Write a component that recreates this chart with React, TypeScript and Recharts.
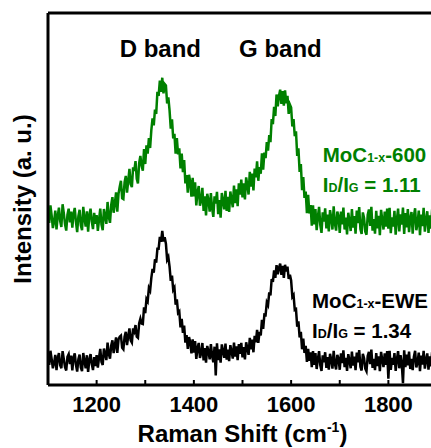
import React from 'react';
import { LineChart, Line, XAxis, YAxis, ReferenceLine, ReferenceDot, Label } from 'recharts';

const FONT = '"Liberation Sans", Arial, Helvetica, sans-serif';
const GREEN = '#008000';

// Raman shift sampling (cm-1)
const RAMAN_SHIFT_START = 1100;
const RAMAN_SHIFT_STEP = 2.5;

// MoC1-x-600 spectrum, offset upward (a. u.)
const INTENSITY_600 = [
  47.1, 43.6, 48.3, 45.6, 42.2, 43.9, 46.9, 41.8, 45.4, 47.7, 44.1, 42.5, 48.6, 46.2, 43.2, 41.5, 45.8, 47.4, 43.7, 46.6,
  42.3, 46.0, 47.6, 43.8, 41.1, 45.4, 47.1, 42.9, 41.6, 47.9, 44.8, 42.6, 46.7, 41.2, 45.6, 47.4, 44.0, 41.9, 46.3, 43.3,
  45.7, 41.4, 44.5, 47.4, 43.1, 41.6, 47.3, 45.4, 43.3, 49.2, 45.2, 43.6, 48.4, 50.5, 46.3, 48.8, 51.8, 46.6, 51.4, 53.3,
  54.9, 50.2, 50.0, 54.5, 56.2, 51.7, 54.9, 58.1, 54.0, 53.2, 58.5, 57.6, 60.2, 55.4, 54.2, 59.7, 61.6, 58.9, 57.6, 63.4,
  59.4, 64.4, 62.2, 66.4, 63.7, 68.5, 71.7, 69.8, 74.0, 72.9, 78.8, 77.7, 81.8, 78.8, 82.6, 78.4, 80.9, 80.5, 75.7, 77.3,
  73.8, 68.9, 71.4, 66.3, 67.5, 62.2, 66.4, 62.0, 63.6, 58.2, 62.2, 57.2, 60.5, 54.2, 56.4, 51.7, 56.5, 54.6, 50.6, 55.7,
  50.7, 54.5, 48.3, 51.9, 53.5, 48.2, 49.6, 53.0, 46.8, 50.7, 45.6, 51.4, 49.6, 46.6, 51.6, 47.5, 45.2, 50.7, 48.8, 51.9,
  45.9, 49.7, 45.0, 51.6, 49.5, 47.2, 52.2, 46.8, 50.6, 46.5, 52.0, 49.9, 47.8, 53.6, 48.9, 52.6, 48.1, 54.2, 51.2, 55.2,
  50.4, 54.2, 49.9, 55.8, 53.8, 51.2, 57.3, 53.3, 56.8, 52.3, 58.2, 55.8, 60.1, 54.9, 58.6, 56.8, 62.3, 57.9, 62.5, 61.0,
  65.3, 63.0, 67.2, 65.3, 71.5, 70.1, 74.8, 72.3, 78.1, 74.9, 77.7, 79.4, 75.6, 79.0, 75.1, 79.2, 75.7, 77.7, 72.9, 75.4,
  74.6, 69.5, 71.5, 66.9, 68.2, 61.6, 63.6, 57.3, 59.4, 52.4, 55.9, 50.3, 52.0, 46.2, 51.1, 46.1, 48.4, 42.8, 48.3, 43.2,
  47.3, 41.6, 45.2, 47.9, 43.0, 40.9, 46.4, 43.9, 47.5, 42.1, 45.8, 41.3, 47.0, 44.9, 41.8, 48.0, 43.4, 41.5, 46.6, 45.3,
  40.9, 46.6, 43.2, 47.7, 41.8, 45.0, 40.5, 46.3, 44.1, 41.4, 47.3, 42.3, 45.4, 40.7, 46.9, 43.5, 47.8, 41.9, 40.6, 46.4,
  44.9, 41.2, 40.4, 45.7, 47.2, 42.8, 47.9, 41.5, 44.6, 40.7, 46.8, 42.1, 45.5, 40.3, 47.1, 44.3, 41.8, 46.6, 42.6, 47.4,
  42.0, 47.6, 40.8, 45.1, 42.6, 46.8, 40.4, 44.5, 47.4, 41.3, 45.9, 43.1, 47.7, 40.6, 46.2, 42.4, 47.3, 41.1, 44.7, 46.5,
  40.7, 45.4, 47.5, 41.6, 43.4, 46.9, 40.3, 45.8, 42.7, 47.6, 41.2, 44.4, 46.7, 40.9, 45.6, 42.0, 47.2, 43.2, 40.5, 46.3,
  44.8,
];

// MoC1-x-EWE spectrum (a. u.)
const INTENSITY_EWE = [
  8.9, 5.4, 9.2, 7.0, 4.5, 5.9, 8.1, 4.0, 7.3, 8.6, 5.3, 4.5, 9.1, 7.0, 4.8, 3.9, 7.6, 8.3, 5.6, 7.9,
  3.9, 7.3, 8.5, 5.4, 3.6, 6.9, 8.2, 4.7, 3.7, 8.6, 6.4, 4.5, 8.0, 3.5, 6.7, 8.3, 5.7, 4.0, 7.5, 5.1,
  8.0, 4.7, 7.4, 9.7, 6.2, 5.4, 9.8, 8.4, 6.7, 11.4, 8.4, 7.1, 10.6, 12.0, 8.6, 10.7, 12.8, 8.6, 12.2, 13.0,
  13.3, 10.0, 9.6, 13.0, 14.3, 10.7, 13.1, 15.2, 12.0, 11.4, 15.2, 14.4, 16.1, 13.0, 12.7, 16.6, 17.8, 16.5, 16.4, 20.9,
  19.3, 23.1, 22.5, 26.1, 25.4, 28.8, 31.2, 30.2, 33.8, 32.9, 36.6, 36.6, 39.8, 38.5, 41.4, 38.6, 39.7, 38.0, 33.7, 34.4,
  31.8, 28.0, 29.4, 25.6, 26.2, 21.6, 23.0, 19.4, 19.8, 15.5, 17.8, 14.0, 16.0, 11.4, 13.4, 9.7, 12.9, 11.6, 8.5, 12.3,
  8.7, 11.8, 7.0, 9.9, 11.3, 7.3, 8.5, 11.3, 6.6, 9.9, 6.0, 10.5, 9.1, 6.9, 11.0, 7.8, 6.1, 10.3, 2.6, 11.2,
  6.7, 9.6, 6.0, 10.9, 9.1, 7.3, 11.1, 6.8, 9.5, 6.4, 10.7, 9.0, 7.1, 11.4, 7.6, 10.4, 6.7, 11.0, 8.4, 11.3,
  7.4, 10.2, 6.9, 11.5, 9.9, 8.1, 12.7, 9.6, 12.2, 8.8, 13.2, 11.5, 14.8, 11.3, 14.3, 13.3, 17.5, 15.1, 18.9, 18.8,
  22.2, 21.5, 24.9, 24.1, 28.5, 27.7, 30.8, 28.8, 32.2, 29.8, 31.5, 32.6, 29.6, 32.0, 28.8, 32.3, 30.5, 31.8, 28.5, 29.6,
  28.1, 23.7, 24.2, 20.2, 20.4, 15.7, 17.1, 12.8, 14.3, 9.6, 12.5, 8.6, 10.5, 6.2, 9.7, 6.5, 8.8, 4.8, 9.1, 5.4,
  8.6, 4.3, 7.0, 9.1, 5.3, 3.8, 8.0, 6.1, 8.8, 4.6, 7.5, 4.1, 8.4, 6.8, 4.4, 9.2, 5.7, 4.2, 8.1, 7.1,
  4.1, 8.5, 5.9, 9.3, 4.8, 7.3, 3.8, 8.3, 6.6, 4.5, 9.0, 5.2, 7.6, 4.0, 8.7, 6.1, 9.4, 4.9, 3.9, 8.4,
  7.2, 4.4, 3.7, 7.8, 8.9, 5.6, 9.5, 4.6, 7.0, 4.0, 8.6, 5.1, 7.7, 3.7, 8.9, 6.7, 4.8, 8.5, 5.4, 9.1,
  1.7, 9.2, 4.1, 7.3, 5.4, 8.6, 3.8, 6.9, 9.1, 4.5, 8.0, 5.8, 0.5, 9.3, 4.8, 8.2, 5.3, 9.0, 4.3, 7.0,
  4.0, 7.6, 9.2, 4.7, 6.0, 8.7, 3.7, 7.9, 5.5, 9.2, 4.4, 6.8, 8.5, 4.1, 7.7, 5.0, 8.9, 5.9, 3.8, 8.3,
  6.2,
];

const SHIFT_TICKS = [1200, 1300, 1400, 1500, 1600, 1700, 1800];
const SHIFT_TICK_LABELS = [1200, 1400, 1600, 1800];
const BAND_NAMES = ['D band', 'G band'];
const SAMPLE_SUFFIXES = ['600', 'EWE'];
const ID_IG_RATIOS = ['1.11', '1.34'];

const data = INTENSITY_600.map((v, i) => ({
  shift: RAMAN_SHIFT_START + i * RAMAN_SHIFT_STEP,
  moc600: v,
  mocEwe: INTENSITY_EWE[i],
}));

const ShiftTick = (props: any) => {
  const { x, y, payload } = props;
  const showLabel = SHIFT_TICK_LABELS.includes(payload.value);
  return (
    <g>
      <line x1={x} x2={x} y1={y} y2={y - 5} stroke="#000" strokeWidth={2} />
      {showLabel && (
        <text x={x} y={y + 27} textAnchor="middle" fontFamily={FONT} fontWeight="bold" fontSize={22} fill="#000">
          {payload.value}
        </text>
      )}
    </g>
  );
};

const XTitle = (props: any) => {
  const { x, y, width } = props.viewBox;
  return (
    <text x={x + width / 2} y={y + 57} textAnchor="middle" fontFamily={FONT} fontWeight="bold" fontSize={24} fill="#000">
      <tspan>Raman Shift (cm</tspan>
      <tspan fontSize={14} dy={-10}>-1</tspan>
      <tspan dy={10}>)</tspan>
    </text>
  );
};

const YTitle = (props: any) => {
  const { x, y, width, height } = props.viewBox;
  const cx = x + width - 17.5;
  const cy = y + height / 2;
  return (
    <text x={cx} y={cy} transform={`rotate(-90 ${cx} ${cy})`} textAnchor="middle" fontFamily={FONT} fontWeight="bold" fontSize={24} fill="#000">
      Intensity (a. u.)
    </text>
  );
};

const BandLabel = (props: any) => {
  const { x, y } = props.viewBox;
  return (
    <text x={x} y={y} textAnchor="middle" fontFamily={FONT} fontWeight="bold" fontSize={24} fill="#000">
      {props.text}
    </text>
  );
};

const SampleLabel = (props: any) => {
  const { x, y } = props.viewBox;
  const { suffix, ratio, color } = props;
  const small = 12.5;
  return (
    <text x={x} y={y} fontFamily={FONT} fontWeight="bold" fontSize={20.5} fill={color} style={{ whiteSpace: 'pre' }}>
      <tspan>MoC</tspan>
      <tspan fontSize={small}>1-x</tspan>
      <tspan>-{suffix}</tspan>
      <tspan x={x} dy={30}>I</tspan>
      <tspan fontSize={small}>D</tspan>
      <tspan>/I</tspan>
      <tspan fontSize={small}>G</tspan>
      <tspan>{' = ' + ratio}</tspan>
    </text>
  );
};

export default function App() {
  return (
    <div style={{ position: 'absolute', left: 0, top: 0, width: 431, height: 448, overflow: 'hidden', background: '#fff' }}>
      <LineChart width={460} height={448} data={data} margin={{ top: 13, right: 23, bottom: 0, left: 0 }}>
        <XAxis
          type="number"
          dataKey="shift"
          domain={[1100, 1900]}
          ticks={SHIFT_TICKS}
          interval={0}
          tickLine={false}
          tickSize={0}
          tickMargin={0}
          tick={<ShiftTick />}
          height={63}
          axisLine={{ stroke: '#000', strokeWidth: 3 }}
          allowDataOverflow
        >
          <Label content={<XTitle />} />
        </XAxis>
        <YAxis
          type="number"
          domain={[0, 100]}
          width={48}
          tick={false}
          tickLine={false}
          axisLine={{ stroke: '#000', strokeWidth: 3 }}
          allowDataOverflow
        >
          <Label content={<YTitle />} />
        </YAxis>
        <ReferenceLine y={100} stroke="#000" strokeWidth={3} />
        <Line type="linear" dataKey="moc600" stroke={GREEN} strokeWidth={2.5} dot={false} isAnimationActive={false} />
        <Line type="linear" dataKey="mocEwe" stroke="#000" strokeWidth={2.5} dot={false} isAnimationActive={false} />
        <ReferenceDot x={1331} y={88.2} r={0} fill="none" stroke="none" label={<BandLabel text={BAND_NAMES[0]} />} />
        <ReferenceDot x={1578} y={88.2} r={0} fill="none" stroke="none" label={<BandLabel text={BAND_NAMES[1]} />} />
        <ReferenceDot x={1665} y={59.9} r={0} fill="none" stroke="none" label={<SampleLabel suffix={SAMPLE_SUFFIXES[0]} ratio={ID_IG_RATIOS[0]} color={GREEN} />} />
        <ReferenceDot x={1643} y={20.7} r={0} fill="none" stroke="none" label={<SampleLabel suffix={SAMPLE_SUFFIXES[1]} ratio={ID_IG_RATIOS[1]} color="#000" />} />
      </LineChart>
    </div>
  );
}
